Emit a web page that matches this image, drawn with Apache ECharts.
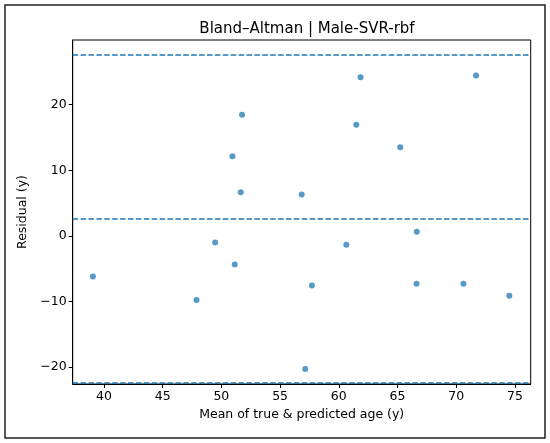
<!DOCTYPE html>
<html>
<head>
<meta charset="utf-8">
<script src="https://cdn.jsdelivr.net/npm/echarts@6/dist/echarts.min.js"></script>
<style>
  html, body { margin: 0; padding: 0; background: #fff; }
  #chart { width: 550px; height: 443px; }
</style>
</head>
<body>
<div id="chart"></div>
<script>
// mean of true & predicted age
var meanAge = [39.06, 47.88, 49.47, 50.94, 51.14, 51.65, 51.76, 56.84, 57.14, 57.71,
               60.64, 61.49, 61.85, 65.23, 66.64, 66.62, 70.61, 71.69, 74.52];
// residuals
var residual = [-6.18, -9.79, -1.0, 12.14, -4.36, 6.67, 18.48, 6.30, -20.29, -7.55,
                -1.37, 16.96, 24.2, 13.5, 0.61, -7.31, -7.31, 24.47, -9.13];
// bias and limits of agreement
var limits = [27.67, 2.59, -22.39];
var xTicks = [40, 45, 50, 55, 60, 65, 70, 75];
var yTicks = [-20, -10, 0, 10, 20];

var blue = '#1f77b4';
var font = 'DejaVu Sans';

var chart = echarts.init(document.getElementById('chart'));

var points = meanAge.map(function (x, i) { return [x, residual[i]]; });

function minusSign(v) {
    return String(v).replace('-', '\u2212');
}

var option = {
    animation: false,
    backgroundColor: '#fff',
    title: {
        text: 'Bland–Altman | Male-SVR-rbf',
        left: 302,
        top: 17,
        textAlign: 'center',
        textStyle: { fontFamily: font, fontSize: 15, fontWeight: 'normal', color: '#000' }
    },
    graphic: [{
        type: 'rect',
        shape: { x: 5, y: 5, width: 540, height: 433 },
        style: { fill: 'none', stroke: '#222', lineWidth: 1.5 },
        silent: true
    }],
    grid: {
        left: 72.7, right: 19.3, top: 40, bottom: 59,
        show: true, borderColor: '#000', borderWidth: 1, backgroundColor: 'transparent'
    },
    xAxis: {
        type: 'value',
        min: 37.34, max: 76.34,
        name: 'Mean of true & predicted age (y)',
        nameLocation: 'middle',
        nameGap: 23,
        nameTextStyle: { fontFamily: font, fontSize: 12.5, color: '#000' },
        splitLine: { show: false },
        axisLine: { show: true, onZero: false, lineStyle: { color: '#000', width: 1 } },
        axisTick: { show: true, length: 4, customValues: xTicks, lineStyle: { color: '#000' } },
        axisLabel: { customValues: xTicks, fontFamily: font, fontSize: 12.5, color: '#000', margin: 6 }
    },
    yAxis: {
        type: 'value',
        min: -22.59, max: 29.87,
        name: 'Residual (y)',
        nameLocation: 'middle',
        nameGap: 38.5,
        nameTextStyle: { fontFamily: font, fontSize: 12.5, color: '#000' },
        splitLine: { show: false },
        axisLine: { show: true, onZero: false, lineStyle: { color: '#000', width: 1 } },
        axisTick: { show: true, length: 4, customValues: yTicks, lineStyle: { color: '#000' } },
        axisLabel: { customValues: yTicks, formatter: minusSign, fontFamily: font, fontSize: 12.5, color: '#000', margin: 6 }
    },
    series: [{
        type: 'scatter',
        data: points,
        symbolSize: 6,
        itemStyle: { color: blue, opacity: 0.75 },
        markLine: {
            silent: true,
            symbol: 'none',
            label: { show: false },
            lineStyle: { color: blue, width: 1.5, type: [5.5, 2.4], opacity: 1 },
            data: limits.map(function (v) { return { yAxis: v }; })
        }
    }]
};

chart.setOption(option);
</script>
</body>
</html>
